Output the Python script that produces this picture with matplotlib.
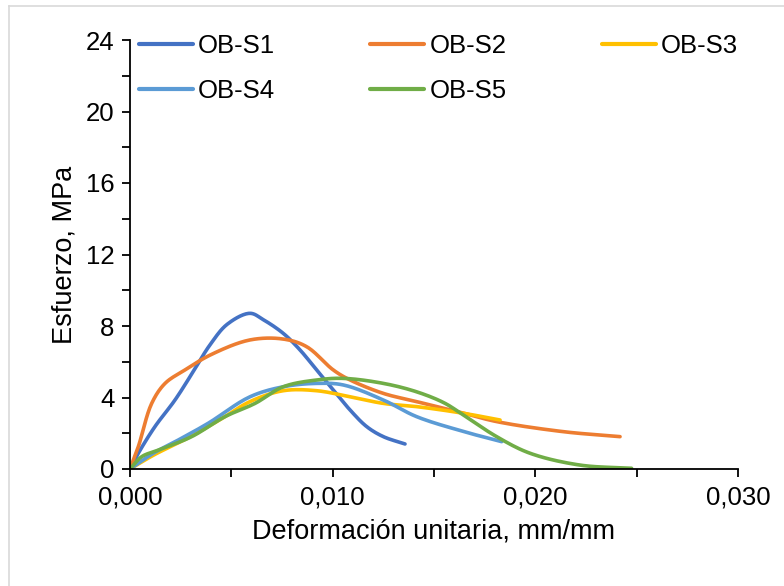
import matplotlib
matplotlib.use("Agg")
import matplotlib.pyplot as plt
from matplotlib.lines import Line2D
from matplotlib.ticker import MultipleLocator, FuncFormatter
import numpy as np

plt.rcParams['font.family'] = ['Liberation Sans', 'DejaVu Sans']

series_names = ["OB-S1", "OB-S2", "OB-S3", "OB-S4", "OB-S5"]
series_colors = ["#4472C4", "#ED7D31", "#FFC000", "#5B9BD5", "#70AD47"]

s1_x = [0.0, 0.00041, 0.00123, 0.00222, 0.00312, 0.00395, 0.0048, 0.00592, 0.00658, 0.00756, 0.00839, 0.00921, 0.01003, 0.01086, 0.01168, 0.0125, 0.01357]
s1_y = [0.0, 0.88, 2.37, 3.86, 5.45, 6.95, 8.1, 8.71, 8.35, 7.59, 6.66, 5.54, 4.42, 3.30, 2.37, 1.81, 1.40]

s2_x = [0.0, 0.00041, 0.00107, 0.00173, 0.00271, 0.00400, 0.00592, 0.00756, 0.00872, 0.01003, 0.01086, 0.0125, 0.01414, 0.0162, 0.0181, 0.02137, 0.02418]
s2_y = [0.0, 1.25, 3.67, 4.79, 5.54, 6.4, 7.22, 7.27, 6.84, 5.54, 4.98, 4.23, 3.77, 3.2, 2.65, 2.09, 1.81]

s3_x = [0.0, 0.0012, 0.0028, 0.0045, 0.00592, 0.00756, 0.00921, 0.01086, 0.0125, 0.01414, 0.01644, 0.01826]
s3_y = [0.0, 0.8, 1.7, 2.8, 3.77, 4.38, 4.38, 4.04, 3.67, 3.49, 3.12, 2.74]

s4_x = [0.0, 0.00115, 0.00238, 0.00386, 0.00592, 0.00756, 0.00921, 0.01053, 0.0125, 0.01414, 0.01645, 0.01834]
s4_y = [0.0, 0.88, 1.62, 2.56, 4.04, 4.6, 4.79, 4.70, 3.86, 2.93, 2.1, 1.53]

s5_x = [0.0, 0.00058, 0.0014, 0.00304, 0.00469, 0.00617, 0.00756, 0.00921, 0.01053, 0.0125, 0.01414, 0.0155, 0.01645, 0.01809, 0.01974, 0.0222, 0.02475]
s5_y = [0.0, 0.69, 1.06, 1.81, 2.93, 3.67, 4.6, 4.98, 5.07, 4.79, 4.32, 3.7, 3.02, 1.81, 0.88, 0.22, 0.04]

series_x = [s1_x, s2_x, s3_x, s4_x, s5_x]
series_y = [s1_y, s2_y, s3_y, s4_y, s5_y]

x_ticks = [0.0, 0.010, 0.020, 0.030]
y_ticks = [0, 4, 8, 12, 16, 20, 24]

XMAX, YMAX = 0.030, 24


def smooth(xs, ys, n=16, alpha=0.5):
    """Centripetal Catmull-Rom through the read points, in screen-like scale."""
    sx, sy = 608.0 / XMAX, 429.0 / YMAX
    P = np.column_stack([np.asarray(xs, float) * sx, np.asarray(ys, float) * sy])
    P = np.vstack([2 * P[0] - P[1], P, 2 * P[-1] - P[-2]])
    out = []
    for i in range(1, len(P) - 2):
        p0, p1, p2, p3 = P[i - 1], P[i], P[i + 1], P[i + 2]
        t0 = 0.0
        t1 = t0 + max(np.linalg.norm(p1 - p0), 1e-6) ** alpha
        t2 = t1 + max(np.linalg.norm(p2 - p1), 1e-6) ** alpha
        t3 = t2 + max(np.linalg.norm(p3 - p2), 1e-6) ** alpha
        t = np.linspace(t1, t2, n, endpoint=False)[:, None]
        A1 = (t1 - t) / (t1 - t0) * p0 + (t - t0) / (t1 - t0) * p1
        A2 = (t2 - t) / (t2 - t1) * p1 + (t - t1) / (t2 - t1) * p2
        A3 = (t3 - t) / (t3 - t2) * p2 + (t - t2) / (t3 - t2) * p3
        B1 = (t2 - t) / (t2 - t0) * A1 + (t - t0) / (t2 - t0) * A2
        B2 = (t3 - t) / (t3 - t1) * A2 + (t - t1) / (t3 - t1) * A3
        C = (t2 - t) / (t2 - t1) * B1 + (t - t1) / (t2 - t1) * B2
        out.append(C)
    out.append(P[-2][None, :])
    C = np.vstack(out)
    return C[:, 0] / sx, C[:, 1] / sy


fig = plt.figure(figsize=(7.84, 5.86), dpi=100)
ax = fig.add_axes([130 / 784, 1 - 469 / 586, 608 / 784, 429 / 586])

for name, color, xs, ys in zip(series_names, series_colors, series_x, series_y):
    cx, cy = smooth(xs, ys)
    ax.plot(cx, cy, color=color, lw=2.6, solid_capstyle='round', label=name)

ax.set_xlim(0, XMAX)
ax.set_ylim(0, YMAX)
ax.set_xticks(x_ticks)
ax.xaxis.set_minor_locator(MultipleLocator(0.005))
ax.set_yticks(y_ticks)
ax.yaxis.set_minor_locator(MultipleLocator(2))
ax.xaxis.set_major_formatter(FuncFormatter(lambda v, p: f"{v:.3f}".replace('.', ',')))

for sp in ['top', 'right']:
    ax.spines[sp].set_visible(False)
for sp in ['left', 'bottom']:
    ax.spines[sp].set_linewidth(1.3)
    ax.spines[sp].set_color('black')

ax.tick_params(axis='both', which='both', direction='out', width=1.3, color='black', labelsize=18.5)
ax.tick_params(axis='both', which='both', length=6)
ax.tick_params(axis='x', pad=6)
ax.tick_params(axis='y', pad=5)

ax.set_xlabel("Deformación unitaria, mm/mm", fontsize=19.5, labelpad=6)
ax.set_ylabel("Esfuerzo, MPa", fontsize=19.5, labelpad=6)

order = [0, 3, 1, 4, 2]
leg_handles = [Line2D([], [], color=series_colors[i], lw=3.0, solid_capstyle='round') for i in order]
leg = fig.legend(leg_handles, [series_names[i] for i in order], ncol=3, frameon=False,
                 loc='upper left', bbox_to_anchor=(139 / 784, 1 - 34 / 586),
                 fontsize=18.5, handlelength=2.1, handletextpad=0.2, columnspacing=3.7,
                 labelspacing=0.82, borderaxespad=0, borderpad=0)

# light chart border
fig.add_artist(Line2D([9 / 784, 9 / 784], [0, 1 - 6 / 586], transform=fig.transFigure, color='#d9d9d9', lw=1.2))
fig.add_artist(Line2D([9 / 784, 1], [1 - 6 / 586, 1 - 6 / 586], transform=fig.transFigure, color='#d9d9d9', lw=1.2))

fig.savefig("out.png", dpi=100)
